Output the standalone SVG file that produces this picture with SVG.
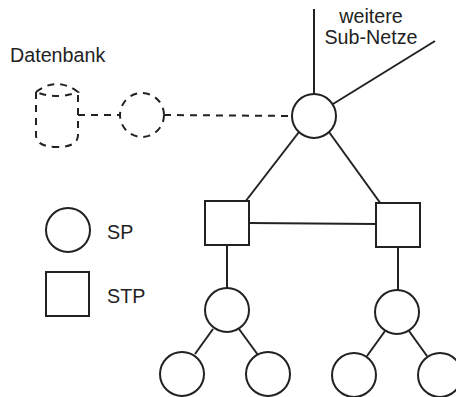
<svg xmlns="http://www.w3.org/2000/svg" width="456" height="397" viewBox="0 0 456 397">
  <style>
    .ln { stroke: #222; stroke-width: 2; fill: none; }
    .dash { stroke: #222; stroke-width: 2; fill: none; stroke-dasharray: 7 6; }
    .node { stroke: #222; stroke-width: 2; fill: #fff; }
    .lbl { font-family: "Liberation Sans", Arial, sans-serif; font-size: 19.7px; fill: #222; }
  </style>
  <rect width="456" height="397" fill="#fff"/>

  <g id="connectors">
    <line class="ln" x1="314" y1="9" x2="314" y2="94"/>
    <line class="ln" x1="333" y1="104" x2="435" y2="41"/>
    <line class="dash" x1="78" y1="115" x2="120" y2="115"/>
    <line class="dash" x1="164" y1="115" x2="292" y2="116"/>
    <line class="ln" x1="299" y1="132" x2="245" y2="202"/>
    <line class="ln" x1="329" y1="132" x2="381" y2="204"/>
    <line class="ln" x1="249" y1="223" x2="376" y2="224"/>
    <line class="ln" x1="227" y1="245" x2="227" y2="288"/>
    <line class="ln" x1="398" y1="247" x2="398" y2="290"/>
    <line class="ln" x1="213" y1="329" x2="195" y2="354"/>
    <line class="ln" x1="239" y1="329" x2="258" y2="355"/>
    <line class="ln" x1="385" y1="331" x2="367" y2="356"/>
    <line class="ln" x1="409" y1="331" x2="427" y2="356"/>
  </g>

  <g id="datenbank">
    <text class="lbl" x="10" y="62">Datenbank</text>
    <!-- cylinder lid and body, dashed -->
    <path class="dash" d="M36,92 Q57,76 78,92 Q57,100 36,92 Z"/>
    <path class="dash" d="M36,92 V135 Q36,147 57,147 Q78,147 78,135 V92"/>
  </g>

  <g id="db-node">
    <circle class="dash" cx="142" cy="115" r="22"/>
  </g>

  <g id="sp-top">
    <circle class="node" cx="314" cy="116" r="22"/>
  </g>

  <g id="subnets-label">
    <text class="lbl" x="371" y="23" text-anchor="middle">weitere</text>
    <text class="lbl" x="371" y="44" text-anchor="middle">Sub-Netze</text>
  </g>

  <g id="stp-left">
    <rect class="node" x="205" y="201" width="44" height="44"/>
  </g>
  <g id="stp-right">
    <rect class="node" x="376" y="203" width="44" height="44"/>
  </g>

  <g id="sp-left">
    <circle class="node" cx="227" cy="310" r="22"/>
  </g>
  <g id="sp-right">
    <circle class="node" cx="397" cy="312" r="22"/>
  </g>

  <g id="sp-leaf-1">
    <circle class="node" cx="182" cy="374" r="22"/>
  </g>
  <g id="sp-leaf-2">
    <circle class="node" cx="268" cy="374" r="22"/>
  </g>
  <g id="sp-leaf-3">
    <circle class="node" cx="354" cy="375" r="22"/>
  </g>
  <g id="sp-leaf-4">
    <circle class="node" cx="440" cy="375" r="22"/>
  </g>

  <g id="legend-sp">
    <circle class="node" cx="68" cy="230" r="22"/>
    <text class="lbl" x="107" y="239">SP</text>
  </g>
  <g id="legend-stp">
    <rect class="node" x="46" y="272" width="43" height="44"/>
    <text class="lbl" x="107" y="303">STP</text>
  </g>
</svg>
